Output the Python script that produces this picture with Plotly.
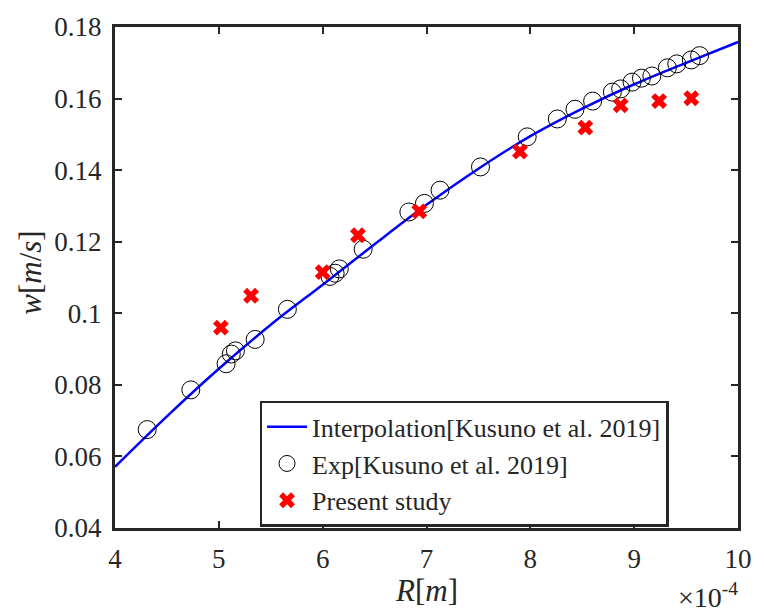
import plotly.graph_objects as go

# Experimental data [Kusuno et al. 2019]  (R in units of 1e-4 m, w in m/s)
exp_R = [4.31, 4.73, 5.07, 5.12, 5.16, 5.35, 5.66, 6.07, 6.12, 6.16, 6.39, 6.83, 6.98, 7.13,
         7.52, 7.97, 8.26, 8.43, 8.60, 8.79, 8.87, 8.98, 9.07, 9.17, 9.32, 9.41, 9.55, 9.63]
exp_w = [0.0675, 0.0786, 0.0859, 0.0886, 0.0895, 0.0927, 0.1011, 0.1103, 0.1112, 0.1124, 0.1179,
         0.1283, 0.1307, 0.1344, 0.1409, 0.1493, 0.1543, 0.1570, 0.1593, 0.1618, 0.1627, 0.1646,
         0.1657, 0.1663, 0.1686, 0.1697, 0.1708, 0.1720]

# Present study
pres_R = [5.02, 5.31, 6.00, 6.34, 6.93, 7.90, 8.53, 8.87, 9.24, 9.55]
pres_w = [0.0960, 0.1049, 0.1115, 0.1218, 0.1285, 0.1452, 0.1519, 0.1581, 0.1593, 0.1601]

# Interpolation curve
interp_R = [4.0, 4.5, 5.0, 5.5, 6.0, 6.5, 7.0, 7.5, 8.0, 8.5, 9.0, 9.5, 10.0]
interp_w = [0.0571, 0.0712, 0.0845, 0.0968, 0.1080, 0.1193, 0.1303, 0.1404, 0.1495, 0.1572,
            0.1640, 0.1700, 0.1758]

x_ticks = [4, 5, 6, 7, 8, 9, 10]
y_ticks = [0.04, 0.06, 0.08, 0.10, 0.12, 0.14, 0.16, 0.18]
y_ticklabels = ["0.04", "0.06", "0.08", "0.1", "0.12", "0.14", "0.16", "0.18"]

FONT = "Liberation Serif"
AX = "#262626"
TXT = "#262626"

fig = go.Figure()
fig.add_trace(go.Scatter(x=interp_R, y=interp_w, mode="lines",
                         line=dict(color="#0000ff", width=2.5, shape="spline"),
                         name="Interpolation[Kusuno et al. 2019]"))
fig.add_trace(go.Scatter(x=exp_R, y=exp_w, mode="markers",
                         marker=dict(symbol="circle-open", size=18, color="black", line=dict(width=1)),
                         name="Exp[Kusuno et al. 2019]"))
fig.add_trace(go.Scatter(x=pres_R, y=pres_w, mode="markers",
                         marker=dict(symbol="x", size=14, color="#ff0000", line=dict(width=0)),
                         name="Present study"))

axis_common = dict(showline=True, linecolor=AX, linewidth=3, mirror="ticks", ticks="inside",
                   ticklen=7, tickwidth=2, tickcolor=AX, showgrid=False, zeroline=False,
                   tickfont=dict(family=FONT, size=27, color=TXT))

fig.update_xaxes(range=[4, 10], tickvals=x_ticks, ticktext=[str(t) for t in x_ticks],
                 ticklabelstandoff=5, **axis_common)
fig.update_yaxes(range=[0.04, 0.18], tickvals=y_ticks, ticktext=y_ticklabels,
                 ticklabelstandoff=5, **axis_common)

# axis titles and exponent as annotations
fig.add_annotation(text="<i>R</i>[<i>m</i>]", xref="paper", yref="paper", x=0.5, y=-0.085,
                   xanchor="center", yanchor="top", showarrow=False,
                   font=dict(family=FONT, size=31, color=TXT))
fig.add_annotation(text="<i>w</i>[<i>m</i>/<i>s</i>]", xref="paper", yref="paper", x=-0.136, y=0.51,
                   xanchor="center", yanchor="middle", textangle=-90, showarrow=False,
                   font=dict(family=FONT, size=31, color=TXT))
fig.add_annotation(text="×10<sup>-4</sup>", xref="paper", yref="paper", x=(750 - 115) / 633, y=-0.096,
                   xanchor="right", yanchor="top", showarrow=False,
                   font=dict(family=FONT, size=28, color=TXT))

fig.update_layout(
    width=764, height=615,
    margin=dict(l=115, r=16, t=14, b=87),
    plot_bgcolor="white", paper_bgcolor="white",
    showlegend=True,
    legend=dict(x=0.232, y=0.254, xanchor="left", yanchor="top",
                bgcolor="white", bordercolor=AX, borderwidth=2.5,
                font=dict(family=FONT, size=26, color=TXT),
                tracegroupgap=0, itemwidth=40),
)

fig.write_html("out.html")
